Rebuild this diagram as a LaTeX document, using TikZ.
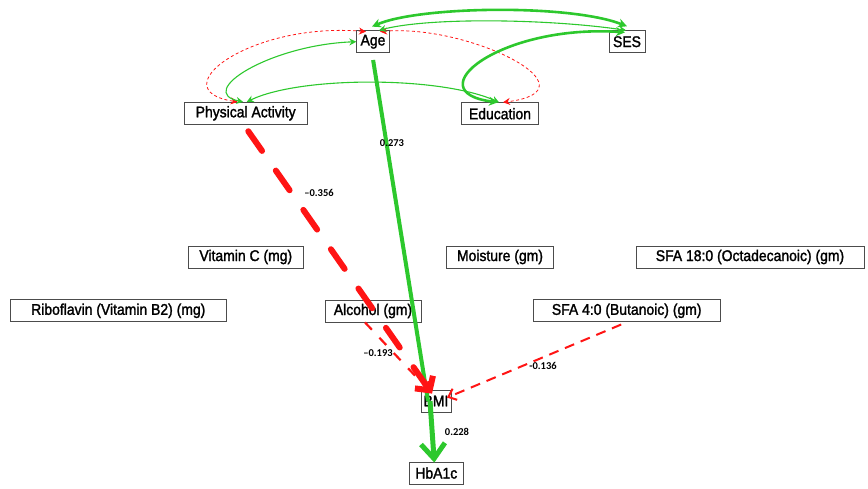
\documentclass[tikz,border=0pt]{standalone}
\usepackage{fontspec}
\setmainfont{Liberation Sans}[FakeStretch=0.9, FakeBold=1.6]
\newfontfamily\coeffont{Carlito}[Ligatures=TeX]
\usetikzlibrary{arrows.meta}
\definecolor{posgreen}{RGB}{45,200,45}
\definecolor{negred}{RGB}{255,20,20}
\begin{document}
\begin{tikzpicture}[x=1pt,y=-1pt,
  var/.style={draw=black!70, line width=0.8pt, fill=white, minimum height=22pt,
    inner sep=0pt, font=\fontsize{15.5}{17}\selectfont},
  coef/.style={font=\coeffont\bfseries\fontsize{10.5}{12}\selectfont, inner sep=0pt},
  pospath/.style={draw=posgreen},
  negpath/.style={draw=negred},
  covthin/.style={line width=1.1pt, {Stealth[length=7pt,width=7pt]}-{Stealth[length=7pt,width=7pt]}},
  covthick/.style={line width=2.6pt, {Stealth[length=9pt,width=9pt]}-{Stealth[length=9pt,width=9pt]}},
  covneg/.style={negpath, line width=0.8pt, dash pattern=on 3pt off 2.5pt,
    {Stealth[length=7pt,width=7pt]}-{Stealth[length=7pt,width=7pt]}},
]
\useasboundingbox (0,0) rectangle (868,488);

% observed variables
\node[var, minimum width=32.6pt] (age) at (373,41.7) {Age};
\node[var, minimum width=36pt] (ses) at (627,41.7) {SES};
\node[var, minimum width=123pt] (pa) at (245.7,113.3) {Physical Activity};
\node[var, minimum width=76.6pt] (edu) at (500,113.7) {Education};
\node[var, minimum width=115pt] (vitc) at (245.8,257) {Vitamin C (mg)};
\node[var, minimum width=106.7pt] (moist) at (500,257) {Moisture (gm)};
\node[var, minimum width=228pt] (sfa18) at (750,257) {SFA 18:0 (Octadecanoic) (gm)};
\node[var, minimum width=216.7pt] (ribo) at (118.3,310.8) {Riboflavin (Vitamin B2) (mg)};
\node[var, minimum width=96pt] (alc) at (373,311) {Alcohol (gm)};
\node[var, minimum width=187pt] (sfa4) at (626.7,310.8) {SFA 4:0 (Butanoic) (gm)};
\node[var, minimum width=30pt] (bmi) at (436,401) {BMI};
\node[var, minimum width=54pt] (hba) at (436.3,473) {HbA1c};

% covariances among the exogenous variables
\draw[covneg] ([xshift=-7pt,yshift=-1.3pt]age.north)
  .. controls (250,22) and (160,90) .. ([xshift=-8pt]pa.north);
\draw[covneg] ([xshift=7pt,yshift=-1.3pt]age.north)
  .. controls (470,24) and (600,90) .. ([xshift=3pt]edu.north);
\draw[pospath, covthin] (age.west)
  .. controls (270,45) and (195,92) .. ([xshift=-2.5pt]pa.north);
\draw[pospath, covthin] ([xshift=1pt]pa.north)
  .. controls (300,76) and (440,76) .. ([xshift=-1pt]edu.north);
\draw[pospath, covthin] ([xshift=6pt]age.north)
  .. controls (430,17) and (550,19) .. ([xshift=-1pt]ses.north);
\draw[pospath, covthick] ([xshift=-1pt,yshift=3.7pt]age.north)
  .. controls (420,6) and (570,4) .. ([yshift=4pt]ses.north);
\draw[pospath, covthick] ([xshift=-2pt,yshift=-2pt]ses.north)
  .. controls (500,24) and (415,92) .. ([xshift=-2pt]edu.north);

% regression paths
\draw[pospath, line width=4pt, shorten <=7pt] ([xshift=-1pt]age.south) -- ([xshift=-8pt]bmi.center);
\draw[pospath, line width=5pt, -{Straight Barb[length=15pt,width=24pt]}]
  ([xshift=-6pt]bmi.center) -- ([xshift=-2pt,yshift=-1pt]hba.north);
\draw[negpath, line width=6pt, line cap=round, dash pattern=on 24pt off 24pt,
  shorten <=8pt, -{Straight Barb[length=10pt,width=22pt]}]
  ([xshift=-2pt]pa.south) -- ([xshift=-4pt,yshift=-4pt]bmi.north);
\draw[negpath, line width=2.2pt, dash pattern=on 10pt off 11pt,
  -{Straight Barb[length=7pt,width=12pt]}]
  ([xshift=-8pt]alc.south) -- ([xshift=-6pt,yshift=-2pt]bmi.north);
\draw[negpath, line width=2pt, dash pattern=on 10pt off 7pt, shorten <=6pt,
  -{Straight Barb[length=7pt,width=12pt]}]
  (sfa4.south) -- ([xshift=11pt,yshift=-8pt]bmi.north);

% path coefficients
\node[coef] (c273) at (392,143.3) {0.273};
\node[coef] (c356) at (319,193) {–0.356};
\node[coef] (c193) at (378,353) {–0.193};
\node[coef] (c136) at (543,366) {-0.136};
\node[coef] (c228) at (457,432.3) {0.228};
\end{tikzpicture}
\end{document}
